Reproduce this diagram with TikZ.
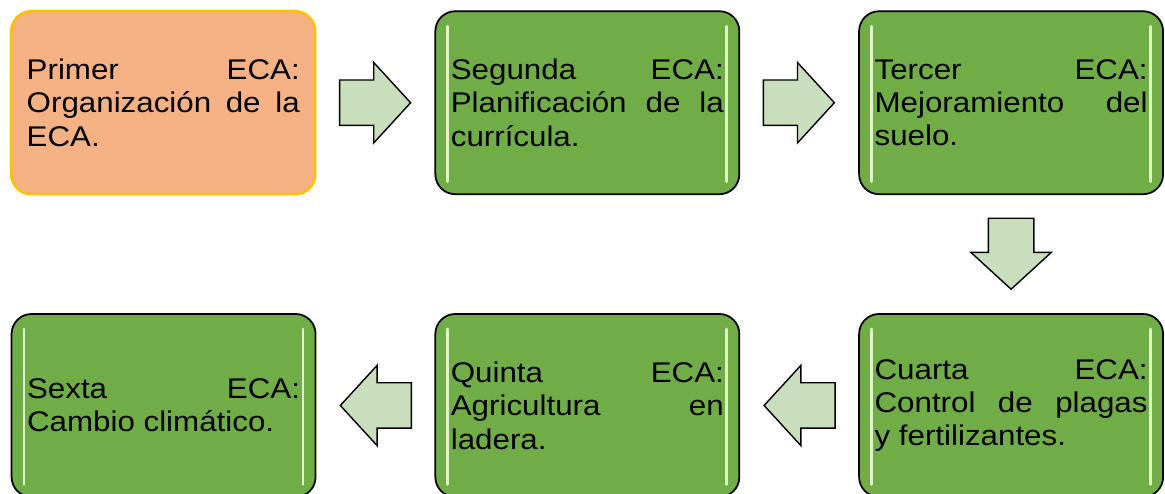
\documentclass[tikz,border=0pt]{standalone}
\usepackage{fontspec}
\setmainfont{Liberation Sans}[FakeStretch=1.1]
\usepackage{xcolor}
\usepackage{tikz}
\usetikzlibrary{positioning}
\usetikzlibrary{shapes.arrows}
\definecolor{ecagreen}{RGB}{112,173,71}
\definecolor{ecalight}{RGB}{222,246,200}
\definecolor{ecaorange}{RGB}{244,177,131}
\definecolor{ecagold}{RGB}{255,192,0}
\definecolor{arrowgreen}{RGB}{200,222,188}
\tikzstyle{ecabox} = [draw=black, fill=ecagreen, line width=1pt,
rectangle, rounded corners=0.4cm, minimum width=6.08cm, minimum height=3.66cm,
text width=5.46cm, align=justify, inner xsep=0.31cm, inner ysep=0pt,
font=\fontsize{16.2pt}{19pt}\selectfont,
path picture={
  \draw[ecalight, line width=1.6pt, line cap=round]
    ([xshift=0.25cm,yshift=-0.3cm]path picture bounding box.north west) --
    ([xshift=0.25cm,yshift=0.25cm]path picture bounding box.south west);
  \draw[ecalight, line width=1.6pt, line cap=round]
    ([xshift=-0.25cm,yshift=-0.3cm]path picture bounding box.north east) --
    ([xshift=-0.25cm,yshift=0.25cm]path picture bounding box.south east);
}]
\tikzstyle{firstbox} = [ecabox, draw=ecagold, fill=ecaorange, line width=1.4pt, path picture={}]
\tikzstyle{blockarrow} = [single arrow, draw=black, fill=arrowgreen, line width=0.8pt,
inner sep=0.44cm, minimum height=1.42cm, anchor=tail, pos=0.19,
single arrow head extend=0.35cm, single arrow tip angle=95]

\begin{document}
\begin{tikzpicture}[node distance=2.36cm]
        \clip (0,0) rectangle (23.3,-9.88);
        \node [firstbox, anchor=north west] (eca1) at (0.2,-0.2)
            {Primer ECA:\linebreak Organización de la\linebreak ECA.};
        \node [ecabox, right=of eca1] (eca2)
            {Segunda ECA:\linebreak Planificación de la\linebreak currícula.};
        \node [ecabox, right=of eca2] (eca3)
            {Tercer ECA:\linebreak Mejoramiento del\linebreak suelo.};
        \node [ecabox, below=of eca3] (eca4)
            {Cuarta ECA:\linebreak Control de plagas\linebreak y fertilizantes.};
        \node [ecabox, left=of eca4] (eca5)
            {Quinta ECA:\linebreak Agricultura en\linebreak ladera.};
        \node [ecabox, left=of eca5] (eca6)
            {Sexta ECA:\linebreak Cambio climático.};
        % block arrows between the boxes
        \path (eca1.east) -- node[blockarrow] {} (eca2.west);
        \path (eca2.east) -- node[blockarrow] {} (eca3.west);
        \path (eca3.south) -- node[blockarrow, shape border rotate=270] {} (eca4.north);
        \path (eca4.west) -- node[blockarrow, shape border rotate=180] {} (eca5.east);
        \path (eca5.west) -- node[blockarrow, shape border rotate=180] {} (eca6.east);
    \end{tikzpicture}
\end{document}
